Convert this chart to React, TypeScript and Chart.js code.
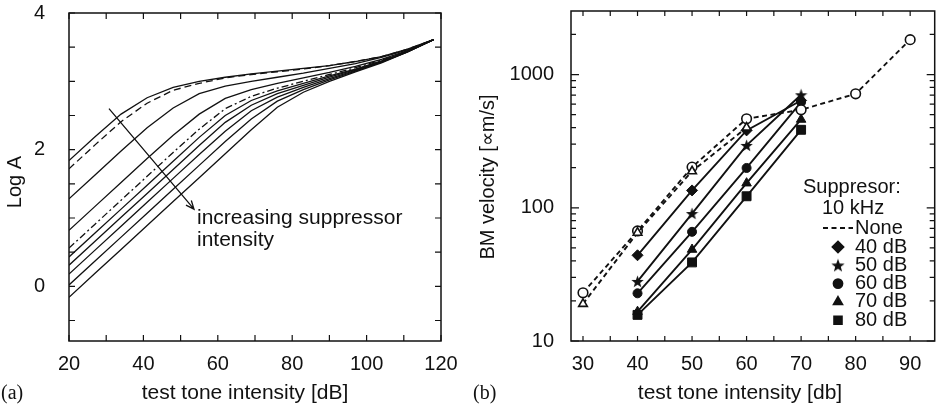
import React, { useEffect, useRef } from 'react';
import { Chart, registerables } from 'chart.js';
import { drawPoint } from 'chart.js/helpers';

Chart.register(...registerables);

const SANS = '"Liberation Sans", Arial, Helvetica, sans-serif';
const SERIF = '"Liberation Serif", "Times New Roman", serif';
const INK = '#111';

// ---------- Panel (a) data ----------
const intensityA = [20, 27, 34, 41, 48, 55, 62, 69, 76, 83, 90, 97, 104, 111, 118];
const logA1 = [1.84, 2.19, 2.52, 2.76, 2.91, 3.0, 3.06, 3.11, 3.15, 3.19, 3.23, 3.29, 3.36, 3.47, 3.61];
const logA2 = [1.72, 2.07, 2.41, 2.68, 2.87, 2.97, 3.05, 3.1, 3.14, 3.18, 3.23, 3.29, 3.36, 3.47, 3.61];
const logA3 = [1.28, 1.63, 1.98, 2.32, 2.61, 2.82, 2.93, 3.0, 3.06, 3.12, 3.19, 3.26, 3.35, 3.46, 3.61];
const logA4 = [0.82, 1.17, 1.52, 1.87, 2.21, 2.52, 2.75, 2.88, 2.97, 3.05, 3.13, 3.22, 3.32, 3.45, 3.61];
const logA5 = [0.56, 0.91, 1.26, 1.61, 1.96, 2.3, 2.6, 2.78, 2.9, 3.0, 3.1, 3.2, 3.31, 3.44, 3.61];
const logA6 = [0.43, 0.78, 1.13, 1.48, 1.83, 2.18, 2.5, 2.72, 2.86, 2.97, 3.08, 3.18, 3.3, 3.44, 3.61];
const logA7 = [0.31, 0.66, 1.01, 1.36, 1.71, 2.06, 2.4, 2.65, 2.82, 2.94, 3.06, 3.17, 3.29, 3.44, 3.61];
const logA8 = [0.18, 0.53, 0.88, 1.23, 1.58, 1.93, 2.27, 2.57, 2.77, 2.91, 3.04, 3.16, 3.28, 3.43, 3.61];
const logA9 = [0.02, 0.37, 0.72, 1.07, 1.42, 1.77, 2.12, 2.45, 2.71, 2.88, 3.02, 3.15, 3.28, 3.43, 3.61];
const logA10 = [-0.16, 0.19, 0.54, 0.89, 1.24, 1.59, 1.94, 2.29, 2.62, 2.84, 3.0, 3.14, 3.27, 3.43, 3.61];
const xLabelsA = [20, 40, 60, 80, 100, 120];
const xMarksA = [20, 30, 40, 50, 60, 70, 80, 90, 100, 110, 120];
const yLabelsA = [0, 2, 4];
const yMarksA = [-0.5, 0, 0.5, 1, 1.5, 2, 2.5, 3, 3.5, 4];

// ---------- Panel (b) data ----------
const xNone = [30, 40, 50, 60, 70, 80, 90];
const velNone = [23, 67, 202, 466, 544, 717, 1829];
const xNone2 = [30, 40, 50, 60];
const velNone2 = [19, 65, 188, 400];
const xSupp = [40, 50, 60, 70];
const vel40 = [44, 135, 381, 639];
const vel50 = [28, 90.5, 294, 705];
const vel60 = [22.8, 66, 199, 621];
const vel70 = [16.6, 48.6, 153, 460];
const vel80 = [15.7, 38.9, 122, 385];
const xLabelsB = [30, 40, 50, 60, 70, 80, 90];
const xMarksB = [30, 35, 40, 45, 50, 55, 60, 65, 70, 75, 80, 85, 90];
const yLabelsB = [10, 100, 1000];
const yMarksB = [10, 20, 30, 40, 50, 60, 70, 80, 90, 100, 200, 300, 400, 500, 600, 700, 800, 900, 1000, 2000];
const legendLabelsB = ['40 dB', '50 dB', '60 dB', '70 dB', '80 dB'];

const pts = (xs: number[], ys: number[]) => xs.map((x, i) => ({ x, y: ys[i] }));

function makeStar(size: number) {
  const c = document.createElement('canvas');
  c.width = size;
  c.height = size;
  const g = c.getContext('2d')!;
  const cx = size / 2, cy = size / 2 + 0.6, R = size / 2, r = R * 0.42;
  g.beginPath();
  for (let i = 0; i < 10; i++) {
    const rad = i % 2 === 0 ? R : r;
    const a = -Math.PI / 2 + (i * Math.PI) / 5;
    const px = cx + rad * Math.cos(a), py = cy + rad * Math.sin(a);
    if (i === 0) g.moveTo(px, py); else g.lineTo(px, py);
  }
  g.closePath();
  g.fillStyle = INK;
  g.fill();
  return c;
}

const framePlugin = {
  id: 'frame',
  afterDraw(chart: any, _args: any, opts: any) {
    const { ctx, chartArea } = chart;
    const { left, right, top, bottom } = chartArea;
    const xs = chart.scales.x, ys = chart.scales.y;
    ctx.save();
    ctx.strokeStyle = INK;
    ctx.lineWidth = 1.5;
    ctx.strokeRect(left, top, right - left, bottom - top);
    ctx.lineWidth = 1.2;
    ctx.beginPath();
    for (const v of opts.xMarks || []) {
      const p = xs.getPixelForValue(v);
      if (p < left - 0.5 || p > right + 0.5) continue;
      const len = opts.xMajor && opts.xMajor.includes(v) ? opts.major : opts.minor;
      ctx.moveTo(p, bottom); ctx.lineTo(p, bottom - len);
      ctx.moveTo(p, top); ctx.lineTo(p, top + len);
    }
    for (const v of opts.yMarks || []) {
      const p = ys.getPixelForValue(v);
      if (p < top - 0.5 || p > bottom + 0.5) continue;
      const len = opts.yMajor && opts.yMajor.includes(v) ? opts.major : opts.minor;
      ctx.moveTo(left, p); ctx.lineTo(left + len, p);
      ctx.moveTo(right, p); ctx.lineTo(right - len, p);
    }
    ctx.stroke();
    ctx.restore();
  },
};

const textPlugin = {
  id: 'texts',
  afterDraw(chart: any, _args: any, opts: any) {
    const { ctx } = chart;
    ctx.save();
    ctx.fillStyle = INK;
    ctx.textBaseline = 'middle';
    for (const t of opts.items || []) {
      ctx.save();
      ctx.font = t.font;
      ctx.textAlign = t.align || 'left';
      ctx.translate(t.x, t.y);
      if (t.rotate) ctx.rotate(t.rotate);
      ctx.fillText(t.text, 0, 0);
      ctx.restore();
    }
    if (opts.extra) opts.extra(chart, ctx);
    ctx.restore();
  },
};

function baseScale(min: number, max: number, labels: number[], fitKey: 'width' | 'height', fit: number, pad: number, type = 'linear') {
  return {
    type,
    min,
    max,
    afterBuildTicks: (s: any) => {
      s.ticks = labels.map((v) => ({ value: v }));
    },
    afterFit: (s: any) => {
      s[fitKey] = fit;
      s.paddingTop = 0;
      s.paddingBottom = 0;
      s.paddingLeft = 0;
      s.paddingRight = 0;
    },
    ticks: {
      font: { family: SANS, size: 20 },
      color: INK,
      padding: pad,
      maxRotation: 0,
      autoSkip: false,
      callback: (v: any) => String(v),
    },
    grid: { display: false },
    border: { display: false },
  };
}

export default function App() {
  const refA = useRef<HTMLCanvasElement>(null);
  const refB = useRef<HTMLCanvasElement>(null);

  useEffect(() => {
    const lineA = (ys: number[], dash: number[] = []) => ({
      data: pts(intensityA, ys),
      borderColor: INK,
      borderWidth: 1.3,
      borderDash: dash,
      pointRadius: 0,
      tension: 0,
      fill: false,
    });

    const chartA = new Chart(refA.current!, {
      type: 'line',
      data: {
        datasets: [
          lineA(logA1),
          lineA(logA2, [7, 4]),
          lineA(logA3),
          lineA(logA4),
          lineA(logA5, [7, 3, 2, 3]),
          lineA(logA6),
          lineA(logA7),
          lineA(logA8),
          lineA(logA9),
          lineA(logA10),
        ] as any,
      },
      options: {
        responsive: false,
        animation: false,
        maintainAspectRatio: false,
        layout: { padding: { top: 13, right: 29, left: 0, bottom: 0 } },
        scales: {
          x: baseScale(20, 120, xLabelsA, 'height', 67, 3) as any,
          y: baseScale(-0.8, 4, yLabelsA, 'width', 69, 16) as any,
        },
        plugins: {
          legend: { display: false },
          tooltip: { enabled: false },
          frame: { xMarks: xMarksA, yMarks: yMarksA, major: 6, minor: 6 },
          texts: {
            items: [
              { text: 'test tone intensity [dB]', x: 245, y: 393, font: `21px ${SANS}`, align: 'center' },
              { text: 'Log A', x: 15, y: 182, font: `20px ${SANS}`, align: 'center', rotate: -Math.PI / 2 },
              { text: '(a)', x: 1, y: 394, font: `20px ${SERIF}`, align: 'left' },
            ],
            extra: (chart: any, ctx: CanvasRenderingContext2D) => {
              const xs = chart.scales.x, ys = chart.scales.y;
              const x0 = xs.getPixelForValue(30.75), y0 = ys.getPixelForValue(2.6);
              const x1 = xs.getPixelForValue(53.6), y1 = ys.getPixelForValue(1.13);
              ctx.strokeStyle = INK;
              ctx.lineWidth = 1.3;
              ctx.beginPath();
              ctx.moveTo(x0, y0);
              ctx.lineTo(x1, y1);
              const ang = Math.atan2(y1 - y0, x1 - x0);
              const L = 9;
              ctx.moveTo(x1 - L * Math.cos(ang - 0.4), y1 - L * Math.sin(ang - 0.4));
              ctx.lineTo(x1, y1);
              ctx.lineTo(x1 - L * Math.cos(ang + 0.4), y1 - L * Math.sin(ang + 0.4));
              ctx.stroke();
              ctx.font = `21px ${SANS}`;
              ctx.textAlign = 'left';
              const tx = xs.getPixelForValue(54.4);
              ctx.fillText('increasing suppressor', tx, ys.getPixelForValue(1.0));
              ctx.fillText('intensity', tx, ys.getPixelForValue(0.68));
            },
          },
        } as any,
      },
      plugins: [framePlugin, textPlugin],
    });

    const star = makeStar(13);
    const starSmall = makeStar(14);

    const lineB = (xs: number[], ys: number[], style: any, radius: number, dashed = false, open = false) => ({
      data: pts(xs, ys),
      borderColor: INK,
      borderWidth: 1.9,
      borderDash: dashed ? [5, 3.5] : [],
      pointStyle: style,
      pointRadius: radius,
      pointBorderWidth: open ? 1.6 : 1,
      pointBorderColor: INK,
      pointBackgroundColor: open ? '#fff' : INK,
      tension: 0,
      fill: false,
    });

    const chartB = new Chart(refB.current!, {
      type: 'line',
      data: {
        datasets: [
          lineB(xNone2, velNone2, 'triangle', 5, true, true),
          lineB(xNone, velNone, 'circle', 4.8, true, true),
          lineB(xSupp, vel40, 'rectRot', 5.5),
          lineB(xSupp, vel50, star, 6),
          lineB(xSupp, vel60, 'circle', 4.5),
          lineB(xSupp, vel70, 'triangle', 5.5),
          lineB(xSupp, vel80, 'rect', 6.3),
        ] as any,
      },
      options: {
        responsive: false,
        animation: false,
        maintainAspectRatio: false,
        layout: { padding: { top: 11, right: 1, left: 0, bottom: 0 } },
        scales: {
          x: baseScale(27.8, 94.5, xLabelsB, 'height', 67, 3) as any,
          y: baseScale(10, 3000, yLabelsB, 'width', 101, 9, 'logarithmic') as any,
        },
        plugins: {
          legend: { display: false },
          tooltip: { enabled: false },
          frame: { xMarks: xMarksB, yMarks: yMarksB, yMajor: [10, 100, 1000], major: 8, minor: 5 },
          texts: {
            items: [
              { text: 'test tone intensity [db]', x: 270, y: 393, font: `21px ${SANS}`, align: 'center' },
              { text: 'BM velocity [\u221dm/s]', x: 18, y: 177, font: `20px ${SANS}`, align: 'center', rotate: -Math.PI / 2 },
              { text: '(b)', x: 3, y: 394, font: `20px ${SERIF}`, align: 'left' },
              { text: 'Suppresor:', x: 333, y: 187, font: `20px ${SANS}`, align: 'left' },
              { text: '10 kHz', x: 352, y: 208, font: `20px ${SANS}`, align: 'left' },
              { text: 'None', x: 385, y: 228, font: `20px ${SANS}`, align: 'left' },
              ...legendLabelsB.map((t, i) => ({ text: t, x: 385, y: 247 + i * 18.3, font: `20px ${SANS}`, align: 'left' })),
            ],
            extra: (_chart: any, ctx: CanvasRenderingContext2D) => {
              ctx.strokeStyle = INK;
              ctx.lineWidth = 1.8;
              ctx.setLineDash([5, 3.5]);
              ctx.beginPath();
              ctx.moveTo(353, 228);
              ctx.lineTo(383, 228);
              ctx.stroke();
              ctx.setLineDash([]);
              const styles: any[] = ['rectRot', starSmall, 'circle', 'triangle', 'rect'];
              const radii = [5.5, 6.5, 4.5, 5, 5.5];
              styles.forEach((st, i) => {
                ctx.fillStyle = INK;
                ctx.strokeStyle = INK;
                drawPoint(ctx, { pointStyle: st, radius: radii[i], rotation: 0, borderWidth: 1 } as any, 368, 247 + i * 18.3);
              });
            },
          },
        } as any,
      },
      plugins: [framePlugin, textPlugin],
    });

    return () => {
      chartA.destroy();
      chartB.destroy();
    };
  }, []);

  return (
    <div style={{ position: 'absolute', left: 0, top: 0, width: 942, height: 408, background: '#fff' }}>
      <canvas ref={refA} width={470} height={408} style={{ position: 'absolute', left: 0, top: 0, display: 'block' }} />
      <canvas ref={refB} width={472} height={408} style={{ position: 'absolute', left: 470, top: 0, display: 'block' }} />
    </div>
  );
}
